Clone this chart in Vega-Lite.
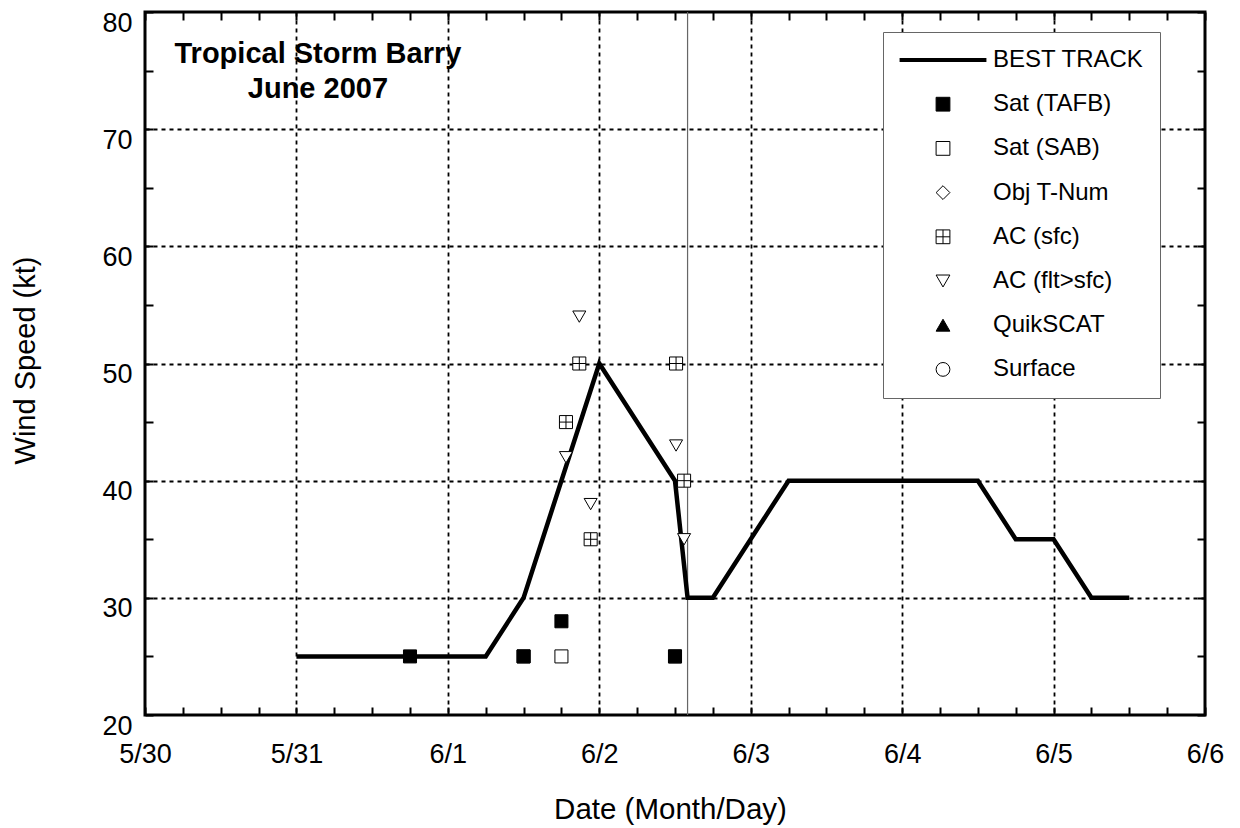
{
  "$schema": "https://vega.github.io/schema/vega-lite/v6.json",
  "width": 1060,
  "height": 703,
  "autosize": "none",
  "padding": {"left": 145, "top": 12, "right": 35, "bottom": 113},
  "background": "white",
  "config": {
    "view": {"stroke": "black", "strokeWidth": 3},
    "font": "Liberation Sans",
    "axis": {"labelFont": "Liberation Sans", "titleFont": "Liberation Sans", "labelColor": "black", "titleColor": "black", "titleFontWeight": "normal"}
  },
  "datasets": {
    "best": [
      {"t": 1.0, "v": 25}, {"t": 2.25, "v": 25}, {"t": 2.5, "v": 30}, {"t": 3.0, "v": 50},
      {"t": 3.5, "v": 40}, {"t": 3.583, "v": 30}, {"t": 3.75, "v": 30}, {"t": 4.25, "v": 40},
      {"t": 5.5, "v": 40}, {"t": 5.75, "v": 35}, {"t": 6.0, "v": 35}, {"t": 6.25, "v": 30},
      {"t": 6.5, "v": 30}
    ],
    "obs": [
      {"t": 2.5, "v": 25, "src": "Sat (SAB)"},
      {"t": 2.75, "v": 25, "src": "Sat (SAB)"},
      {"t": 3.5, "v": 25, "src": "Sat (SAB)"},
      {"t": 1.75, "v": 25, "src": "Sat (TAFB)"},
      {"t": 2.5, "v": 25, "src": "Sat (TAFB)"},
      {"t": 2.75, "v": 28, "src": "Sat (TAFB)"},
      {"t": 3.5, "v": 25, "src": "Sat (TAFB)"},
      {"t": 2.78, "v": 45, "src": "AC (sfc)"},
      {"t": 2.868, "v": 50, "src": "AC (sfc)"},
      {"t": 2.943, "v": 35, "src": "AC (sfc)"},
      {"t": 3.507, "v": 50, "src": "AC (sfc)"},
      {"t": 3.56, "v": 40, "src": "AC (sfc)"},
      {"t": 2.78, "v": 42, "src": "AC (flt>sfc)"},
      {"t": 2.868, "v": 54, "src": "AC (flt>sfc)"},
      {"t": 2.943, "v": 38, "src": "AC (flt>sfc)"},
      {"t": 3.507, "v": 43, "src": "AC (flt>sfc)"},
      {"t": 3.56, "v": 35, "src": "AC (flt>sfc)"}
    ],
    "events": [{"t": 3.583, "event": "landfall"}],
    "titles": [{"t": 1.142, "v": 75.65, "label": "Tropical Storm Barry"}]
  },
  "resolve": {"axis": {"x": "independent", "y": "independent"}},
  "layer": [
    {
      "data": {"name": "events"},
      "mark": {"type": "rule", "color": "#666666", "strokeWidth": 1.2},
      "encoding": {
        "x": {"field": "t", "type": "quantitative", "scale": {"domain": [0, 7], "nice": false, "zero": false}, "axis": null}
      }
    },
    {
      "data": {"name": "best"},
      "mark": {"type": "line", "color": "black", "strokeWidth": 4.5, "strokeJoin": "miter"},
      "encoding": {
        "x": {
          "field": "t", "type": "quantitative",
          "scale": {"domain": [0, 7], "nice": false, "zero": false},
          "axis": {
            "orient": "bottom",
            "values": [0,0.25,0.5,0.75,1,1.25,1.5,1.75,2,2.25,2.5,2.75,3,3.25,3.5,3.75,4,4.25,4.5,4.75,5,5.25,5.5,5.75,6,6.25,6.5,6.75,7],
            "labelExpr": "datum.value % 1 === 0 ? ['5/30','5/31','6/1','6/2','6/3','6/4','6/5','6/6'][datum.value] : ''",
            "labelFontSize": 27, "labelPadding": 34, "labelOverlap": false, "labelFlush": false, "labelBound": false,
            "tickSize": -8, "tickWidth": 2, "tickColor": "black",
            "domain": false,
            "grid": true, "gridColor": "black", "gridDash": [4, 4], "gridWidth": 1.8,
            "gridOpacity": {"condition": {"test": "datum.value % 1 !== 0 || datum.value === 0 || datum.value === 7", "value": 0}, "value": 1},
            "title": "Date (Month/Day)", "titleFontSize": 29.5, "titleX": 525, "titleY": 103, "titleBaseline": "alphabetic", "titleAnchor": "middle"
          }
        },
        "y": {
          "field": "v", "type": "quantitative",
          "scale": {"domain": [20, 80], "nice": false, "zero": false},
          "axis": {
            "orient": "left",
            "values": [20,25,30,35,40,45,50,55,60,65,70,75,80],
            "labelExpr": "datum.value % 10 === 0 ? datum.label : ''",
            "labelFontSize": 27, "labelPadding": 21, "labelOverlap": false, "labelFlush": false, "labelBound": false,
            "labelBaseline": "top", "labelOffset": -2,
            "tickSize": -8, "tickWidth": 2, "tickColor": "black",
            "domain": false,
            "grid": true, "gridColor": "black", "gridDash": [4, 4], "gridWidth": 1.8,
            "gridOpacity": {"condition": {"test": "datum.value % 10 !== 0 || datum.value === 20 || datum.value === 80", "value": 0}, "value": 1},
            "title": "Wind Speed (kt)", "titleFontSize": 29, "titleX": -111, "titleY": 348, "titleBaseline": "alphabetic", "titleAngle": 270, "titleAnchor": "middle"
          }
        }
      }
    },
    {
      "data": {"name": "obs"},
      "mark": {"type": "point", "filled": true, "size": 170, "opacity": 1},
      "encoding": {
        "x": {
          "field": "t", "type": "quantitative",
          "scale": {"domain": [0, 7], "nice": false, "zero": false},
          "axis": {
            "orient": "top",
            "values": [0,0.25,0.5,0.75,1,1.25,1.5,1.75,2,2.25,2.5,2.75,3,3.25,3.5,3.75,4,4.25,4.5,4.75,5,5.25,5.5,5.75,6,6.25,6.5,6.75,7],
            "labels": false, "tickSize": -8, "tickWidth": 2, "tickColor": "black", "domain": false, "grid": false, "title": null
          }
        },
        "y": {
          "field": "v", "type": "quantitative",
          "scale": {"domain": [20, 80], "nice": false, "zero": false},
          "axis": {
            "orient": "right",
            "values": [20,25,30,35,40,45,50,55,60,65,70,75,80],
            "labels": false, "tickSize": -8, "tickWidth": 2, "tickColor": "black", "domain": false, "grid": false, "title": null
          }
        },
        "shape": {
          "field": "src", "type": "nominal",
          "scale": {
            "domain": ["BEST TRACK", "Sat (TAFB)", "Sat (SAB)", "Obj T-Num", "AC (sfc)", "AC (flt>sfc)", "QuikSCAT", "Surface"],
            "range": ["M-6.3,0H6.3", "square", "square", "diamond", "M-1,-1H1V1H-1Z M0,-1V1 M-1,0H1", "triangle-down", "triangle-up", "circle"]
          },
          "legend": {
            "title": null, "orient": "none", "legendX": 738, "legendY": 20, "direction": "vertical", "columns": 1,
            "fillColor": "white", "strokeColor": "#666666", "padding": 16, "rowPadding": 20.2,
            "symbolSize": 190, "symbolOffset": 32, "labelOffset": 38,
            "labelFont": "Liberation Sans", "labelFontSize": 24, "labelColor": "black", "labelLimit": 400
          }
        },
        "fill": {
          "field": "src", "type": "nominal",
          "scale": {
            "domain": ["BEST TRACK", "Sat (TAFB)", "Sat (SAB)", "Obj T-Num", "AC (sfc)", "AC (flt>sfc)", "QuikSCAT", "Surface"],
            "range": ["black", "black", "white", "white", "white", "white", "black", "white"]
          },
          "legend": {
            "title": null, "orient": "none", "legendX": 738, "legendY": 20, "direction": "vertical", "columns": 1,
            "fillColor": "white", "strokeColor": "#666666", "padding": 16, "rowPadding": 20.2,
            "symbolSize": 190, "symbolOffset": 32, "labelOffset": 38,
            "labelFont": "Liberation Sans", "labelFontSize": 24, "labelColor": "black", "labelLimit": 400
          }
        },
        "stroke": {
          "field": "src", "type": "nominal",
          "scale": {
            "domain": ["BEST TRACK", "Sat (TAFB)", "Sat (SAB)", "Obj T-Num", "AC (sfc)", "AC (flt>sfc)", "QuikSCAT", "Surface"],
            "range": ["black", "black", "black", "black", "black", "black", "black", "black"]
          },
          "legend": {
            "title": null, "orient": "none", "legendX": 738, "legendY": 20, "direction": "vertical", "columns": 1,
            "fillColor": "white", "strokeColor": "#666666", "padding": 16, "rowPadding": 20.2,
            "symbolSize": 190, "symbolOffset": 32, "labelOffset": 38,
            "labelFont": "Liberation Sans", "labelFontSize": 24, "labelColor": "black", "labelLimit": 400
          }
        },
        "strokeWidth": {
          "field": "src", "type": "nominal",
          "scale": {
            "type": "ordinal",
            "domain": ["BEST TRACK", "Sat (TAFB)", "Sat (SAB)", "Obj T-Num", "AC (sfc)", "AC (flt>sfc)", "QuikSCAT", "Surface"],
            "range": [4, 1, 1, 1, 1, 1, 1, 1]
          },
          "legend": {
            "title": null, "orient": "none", "legendX": 738, "legendY": 20, "direction": "vertical", "columns": 1,
            "fillColor": "white", "strokeColor": "#666666", "padding": 16, "rowPadding": 20.2,
            "symbolSize": 190, "symbolOffset": 32, "labelOffset": 38,
            "labelFont": "Liberation Sans", "labelFontSize": 24, "labelColor": "black", "labelLimit": 400
          }
        }
      }
    },
    {
      "data": {"name": "titles"},
      "mark": {"type": "text", "font": "Liberation Sans", "fontSize": 29, "fontWeight": "bold", "align": "center", "baseline": "alphabetic", "lineHeight": 35, "color": "black"},
      "encoding": {
        "x": {"field": "t", "type": "quantitative", "scale": {"domain": [0, 7], "nice": false, "zero": false}, "axis": null},
        "y": {"field": "v", "type": "quantitative", "scale": {"domain": [20, 80], "nice": false, "zero": false}, "axis": null},
        "text": {"value": ["Tropical Storm Barry", "June 2007"]}
      }
    }
  ]
}
